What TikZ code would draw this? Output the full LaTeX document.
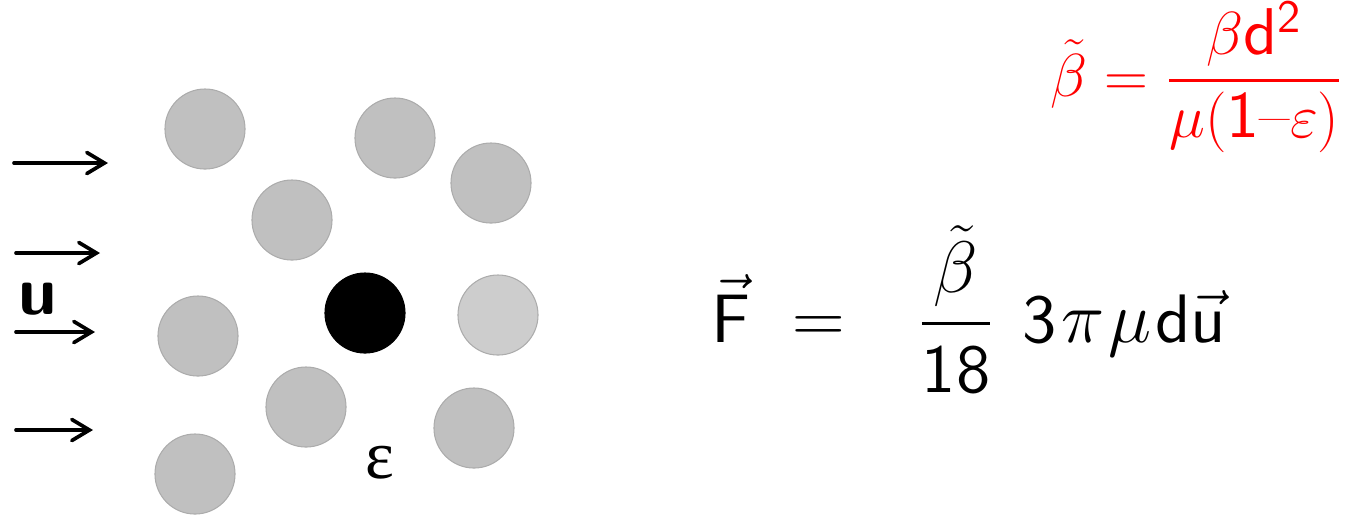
\documentclass[tikz,border=0pt]{standalone}
\usepackage{amsmath,amssymb}
\usepackage{fontspec}
\setsansfont{lmsans10-regular.otf}[BoldFont=lmsans10-bold.otf]
\newfontfamily\epsfont{Liberation Serif}
\usetikzlibrary{arrows.meta}
\definecolor{grainfill}{RGB}{192,192,192}
\definecolor{grainlight}{RGB}{205,205,205}
\definecolor{grainrim}{RGB}{172,172,172}
\definecolor{formred}{RGB}{255,0,0}

\begin{document}
\begin{tikzpicture}[x=0.01cm, y=-0.01cm,
    grain/.style={circle, draw=grainrim, fill=grainfill, line width=0.3pt,
              minimum size=0.8cm, inner sep=0pt},
    flow/.style={-{Straight Barb[length=5pt, width=6pt, line cap=round]},
              line width=1.05pt, line cap=round},
    big/.style={font=\fontsize{19.5}{23}\selectfont, inner sep=0pt},
    red/.style={font=\fontsize{18.8}{22}\selectfont, inner sep=0pt, text=formred}]
  \useasboundingbox (0,0) rectangle (1347,514);

  % ---------- packed grains -----------------------------------------------
  \foreach \n/\x/\y in {g1/205/129, g2/395/138, g3/491/183, g4/292/220,
                        g6/198/336, g7/306/407, g8/474/428, g9/195/474}
    { \node[grain] (\n) at (\x,\y) {}; }
  \node[grain, fill=grainlight] (g5) at (498,315) {};
  \node[grain, fill=black, draw=black] (probe) at (365,313) {};
  \node[big] (eps) at (380,463) {\epsfont ε};

  % ---------- incoming flow -----------------------------------------------
  \foreach \i/\xa/\xb/\y in {1/14/108/163, 2/16/100/253, 3/16/95/332, 4/16/93/430}
    { \coordinate (in\i) at (\xa,\y); \coordinate (out\i) at (\xb,\y);
      \draw[flow] (in\i) -- (out\i); }
  \node[big, font=\fontsize{19.5}{23}\selectfont\sffamily\bfseries] (ulab) at (38,299) {u};

  % ---------- drag law ----------------------------------------------------
  \node[big, anchor=base west] (drag) at (711,342)
    {$\vec{\mathsf{F}}\hspace{6pt}=\hspace{15pt}\dfrac{\tilde{\beta}}{\mathsf{18}}\hspace{8pt}
      \mathsf{3}\mkern1mu\pi\mkern1mu\mu\mkern1mu\mathsf{d}\vec{\mathsf{u}}$};
  \node[red, anchor=base west] (betadef) at (1050,96)
    {$\tilde{\beta}=\dfrac{\beta\mathsf{d}^{\mathsf{2}}}{\mu(\mathsf{1}\text{--}\varepsilon)}$};
\end{tikzpicture}
\end{document}
